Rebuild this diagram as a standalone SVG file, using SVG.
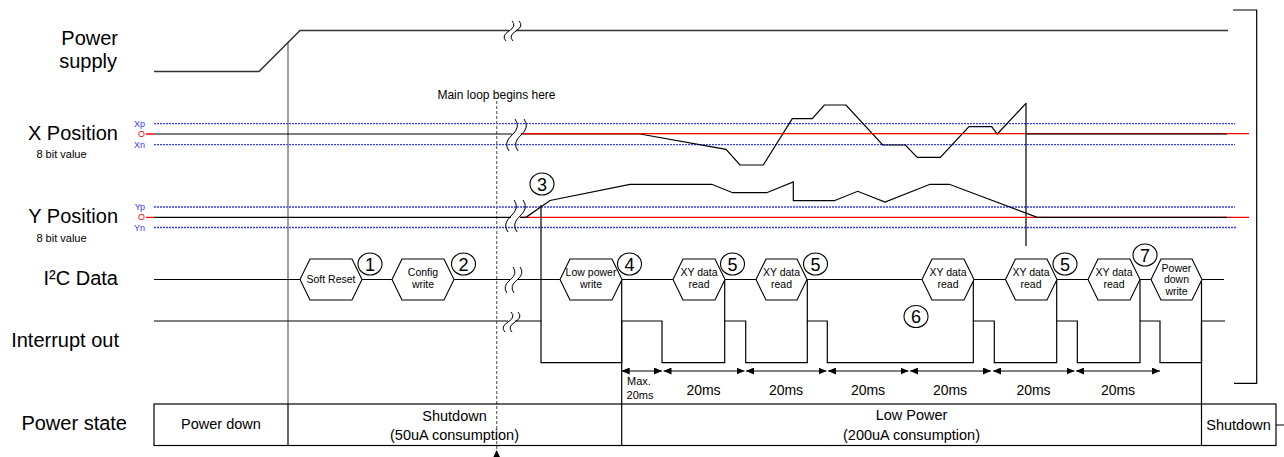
<svg xmlns="http://www.w3.org/2000/svg" width="1284" height="457" viewBox="0 0 1284 457">
<style>
text{font-family:"Liberation Sans",Arial,sans-serif;fill:#000}
.lbl{font-size:20px;text-anchor:end}
.sub{font-size:11px;text-anchor:middle}
.tiny{font-size:9px;text-anchor:end}
.ht{font-size:10.5px;text-anchor:middle}
.num{font-size:18px;text-anchor:middle}
.ps{font-size:14.5px;text-anchor:middle}
.ms{font-size:14px;text-anchor:middle}
.ln{stroke:#000;stroke-width:1.2;fill:none}
.pw{stroke:#333;stroke-width:1.5;fill:none}
.gr{stroke:#808080;stroke-width:1.5;fill:none}
.bl{stroke:#3a3aff;stroke-width:1.3;stroke-dasharray:2 1;fill:none}
.rd{stroke:#ff0000;stroke-width:1.3;fill:none}
.hex{fill:#fff;stroke:#000;stroke-width:1.1}
.cir{fill:#fff;stroke:#000;stroke-width:1.1}
.brk{stroke:#000;stroke-width:1;fill:none}
.arr{stroke:#000;stroke-width:1;fill:none;marker-start:url(#ah);marker-end:url(#ah)}
</style>
<defs>
<marker id="ah" markerWidth="8" markerHeight="7" refX="8" refY="3.5" orient="auto-start-reverse" markerUnits="userSpaceOnUse">
<path d="M0,0 L8,3.5 L0,7 z" fill="#000"/>
</marker>
</defs>

<g id="labels">
<text class="lbl" x="118" y="45">Power</text>
<text class="lbl" x="117" y="68">supply</text>
<text class="lbl" x="118" y="140">X Position</text>
<text class="sub" x="61.5" y="158">8 bit value</text>
<text class="lbl" x="118" y="222.7">Y Position</text>
<text class="sub" x="61.5" y="241.7">8 bit value</text>
<text class="lbl" x="118" y="285">I²C Data</text>
<text class="lbl" x="119" y="346.7">Interrupt out</text>
<text class="lbl" x="127" y="430">Power state</text>
<text class="tiny" x="145" y="126.5" style="fill:#3a3aff">Xp</text>
<text class="tiny" x="145" y="137" style="fill:#ff0000">O</text>
<text class="tiny" x="145" y="147.7" style="fill:#3a3aff">Xn</text>
<text class="tiny" x="145" y="210" style="fill:#3a3aff">Yp</text>
<text class="tiny" x="145" y="220.3" style="fill:#ff0000">O</text>
<text class="tiny" x="145" y="230.7" style="fill:#3a3aff">Yn</text>
<text x="496.5" y="98.5" style="font-size:12px;text-anchor:middle">Main loop begins here</text>
</g>

<g id="connectors">
<!-- guides -->
<path class="bl" d="M154,123.7 L1235,123.7 M154,144.7 L1235,144.7 M154,207 L1235,207 M154,227.5 L1236,227.5"/>
<path class="gr" d="M288,42 L288,404"/>
<path d="M496.7,101 L496.7,451" stroke="#666" stroke-width="1.2" stroke-dasharray="3 2" fill="none"/>
<polygon points="496.7,450 493.4,457 500,457" fill="#000"/>
<path class="ln" d="M1233,10 L1256.7,10 L1256.7,383.3 L1234,383.3"/>

<!-- power supply -->
<path class="pw" d="M154,71.5 L259,71.5 L300,30.5 L509,30.5 M516,30.5 L1228,30.5"/>

<!-- X position -->
<path class="ln" d="M154,134 L512,134 M521,134 L640,134 L726,149.3 L740,165 L763.3,165 L792.3,118.7 L812.3,118.7 L824.3,105 L846,105 L882.7,145 L905.3,145 L917.3,157.3 L940.3,157.3 L969,126.7 L991.7,126.7 L997.3,134 L1026,103.3"/>
<path class="rd" d="M146,134 L154,134 M521,133.6 L1249,133.6"/>
<path class="ln" d="M1026,134 L1227,134 M1026,103 L1026,246"/>

<!-- Y position -->
<path class="rd" d="M146,217.3 L154,217.3 M520,217.3 L1249,217.3"/>
<path class="ln" d="M154,217.3 L511,217.3 M520,217.3 L526,217.3 L550,200.5 L630,184.3 L711.7,184.3 L732.7,192.7 L766.7,192.7 L793.3,182 L793.3,200.7 L834.3,200.7 L857.7,191.3 L885,202 L930,184.3 L949.3,184.3 L1037.3,217.3 L1227,217.3"/>

<!-- I2C data line -->
<path class="ln" d="M154,279.5 L300,279.5 M362,279.5 L392,279.5 M454,279.5 L510,279.5 M517,279.5 L560,279.5 M622,279.5 L673,279.5 M725,279.5 L756,279.5 M807,279.5 L922,279.5 M974,279.5 L1005.5,279.5 M1057,279.5 L1088,279.5 M1140,279.5 L1151,279.5 M1202,279.5 L1224,279.5"/>

<!-- interrupt out -->
<path class="ln" d="M154,321 L508,321 M515,321 L541,321 L541,362.7 L621.7,362.7 L621.7,321 L662,321 L662,362.7 L724.7,362.7 L724.7,321 L745.7,321 L745.7,362.7 L807.3,362.7 L807.3,321 L827.3,321 L827.3,362.7 L973.3,362.7 L973.3,321 L994.3,321 L994.3,362.7 L1056.7,362.7 L1056.7,321 L1077.3,321 L1077.3,362.7 L1140,362.7 L1140,321 L1160,321 L1160,362.7 L1201.5,362.7 L1201.5,321 L1225,321"/>
<path class="ln" d="M541,205 L541,321 M621.7,279.5 L621.7,445.5 M724.7,279.5 L724.7,321 M807.3,279.5 L807.3,321 M973.3,279.5 L973.3,321 M1056.7,279.5 L1056.7,321 M1140,279.5 L1140,321 M1201.5,279.5 L1201.5,445.5"/>

<!-- break marks -->
<path class="brk" d="M512,21 Q517,26 509,31 Q501,36 506,41 M519,21 Q524,26 516,31 Q508,36 513,41"/>
<path class="brk" d="M515,119 Q521,127 512,135 Q503,143 509,151 M524,119 Q530,127 521,135 Q512,143 518,151"/>
<path class="brk" d="M514,200 Q520,208 511,216 Q502,224 508,232 M523,200 Q529,208 520,216 Q511,224 517,232"/>
<path class="brk" d="M513,267 Q518,273.5 510,280 Q502,286.5 507,293 M520,267 Q525,273.5 517,280 Q509,286.5 514,293"/>
<path class="brk" d="M511,312 Q516,317 508,322 Q500,327 505,332 M518,312 Q523,317 515,322 Q507,327 512,332"/>

<!-- timing arrows -->
<path class="arr" d="M621.7,371 L662,371"/>
<path class="arr" d="M663.5,371 L744.5,371"/>
<path class="arr" d="M746,371 L826.5,371"/>
<path class="arr" d="M828,371 L908.5,371"/>
<path class="arr" d="M910,371 L991,371"/>
<path class="arr" d="M993,371 L1074.5,371"/>
<path class="arr" d="M1076,371 L1160,371"/>
</g>

<g id="timing-labels">
<text class="sub" x="639" y="385">Max.</text>
<text class="sub" x="640" y="399">20ms</text>
<text class="ms" x="703.5" y="395">20ms</text>
<text class="ms" x="786" y="395">20ms</text>
<text class="ms" x="868" y="395">20ms</text>
<text class="ms" x="950" y="395">20ms</text>
<text class="ms" x="1033.5" y="395">20ms</text>
<text class="ms" x="1118" y="395">20ms</text>
</g>

<g id="hex-soft-reset">
<polygon class="hex" points="300,279.5 310,259 352,259 362,279.5 352,300 310,300"/>
<text class="ht" x="331" y="283">Soft Reset</text>
</g>
<g id="hex-config-write">
<polygon class="hex" points="392,279.5 402,259 444,259 454,279.5 444,300 402,300"/>
<text class="ht" x="423" y="276">Config</text>
<text class="ht" x="423" y="288">write</text>
</g>
<g id="hex-low-power-write">
<polygon class="hex" points="560,279.5 570,259 612,259 622,279.5 612,300 570,300"/>
<text class="ht" x="591" y="276">Low power</text>
<text class="ht" x="591" y="288">write</text>
</g>
<g id="hex-xy-read-1">
<polygon class="hex" points="673,279.5 683,259 715,259 725,279.5 715,300 683,300"/>
<text class="ht" x="699" y="276">XY data</text>
<text class="ht" x="699" y="288">read</text>
</g>
<g id="hex-xy-read-2">
<polygon class="hex" points="756,279.5 766,259 797,259 807,279.5 797,300 766,300"/>
<text class="ht" x="781.5" y="276">XY data</text>
<text class="ht" x="781.5" y="288">read</text>
</g>
<g id="hex-xy-read-3">
<polygon class="hex" points="922,279.5 932,259 964,259 974,279.5 964,300 932,300"/>
<text class="ht" x="948" y="276">XY data</text>
<text class="ht" x="948" y="288">read</text>
</g>
<g id="hex-xy-read-4">
<polygon class="hex" points="1005.5,279.5 1015.5,259 1047,259 1057,279.5 1047,300 1015.5,300"/>
<text class="ht" x="1031" y="276">XY data</text>
<text class="ht" x="1031" y="288">read</text>
</g>
<g id="hex-xy-read-5">
<polygon class="hex" points="1088,279.5 1098,259 1130,259 1140,279.5 1130,300 1098,300"/>
<text class="ht" x="1114" y="276">XY data</text>
<text class="ht" x="1114" y="288">read</text>
</g>
<g id="hex-power-down-write">
<polygon class="hex" points="1151,279.5 1161,259 1192,259 1202,279.5 1192,300 1161,300"/>
<text class="ht" x="1176.5" y="271.5">Power</text>
<text class="ht" x="1176.5" y="283">down</text>
<text class="ht" x="1176.5" y="294.5">write</text>
</g>

<g id="step-1"><ellipse class="cir" cx="370" cy="264" rx="12" ry="11"/><text class="num" x="370" y="270.5">1</text></g>
<g id="step-2"><ellipse class="cir" cx="463.5" cy="264" rx="12" ry="11"/><text class="num" x="463.5" y="270.5">2</text></g>
<g id="step-3"><ellipse class="cir" cx="542" cy="184" rx="12" ry="11"/><text class="num" x="542" y="190.5">3</text></g>
<g id="step-4"><ellipse class="cir" cx="629.5" cy="264" rx="12" ry="11"/><text class="num" x="629.5" y="270.5">4</text></g>
<g id="step-5a"><ellipse class="cir" cx="732.5" cy="264" rx="12" ry="11"/><text class="num" x="732.5" y="270.5">5</text></g>
<g id="step-5b"><ellipse class="cir" cx="815.5" cy="264" rx="12" ry="11"/><text class="num" x="815.5" y="270.5">5</text></g>
<g id="step-6"><ellipse class="cir" cx="916" cy="316.5" rx="12" ry="11"/><text class="num" x="916" y="323">6</text></g>
<g id="step-5c"><ellipse class="cir" cx="1065" cy="264" rx="12" ry="11"/><text class="num" x="1065" y="270.5">5</text></g>
<g id="step-7"><ellipse class="cir" cx="1145" cy="255" rx="12" ry="11"/><text class="num" x="1145" y="261.5">7</text></g>

<g id="power-state">
<rect x="154" y="404" width="1122" height="41.5" fill="none" stroke="#000" stroke-width="1.2"/>
<path class="ln" d="M288,404 L288,445.5 M1276,425 L1284,425"/>
<text class="ps" x="221" y="429">Power down</text>
<text class="ps" x="454.5" y="421">Shutdown</text>
<text class="ps" x="454.5" y="440">(50uA consumption)</text>
<text class="ps" x="911.5" y="420">Low Power</text>
<text class="ps" x="911.5" y="440">(200uA consumption)</text>
<text class="ps" x="1238.5" y="430">Shutdown</text>
</g>
</svg>
